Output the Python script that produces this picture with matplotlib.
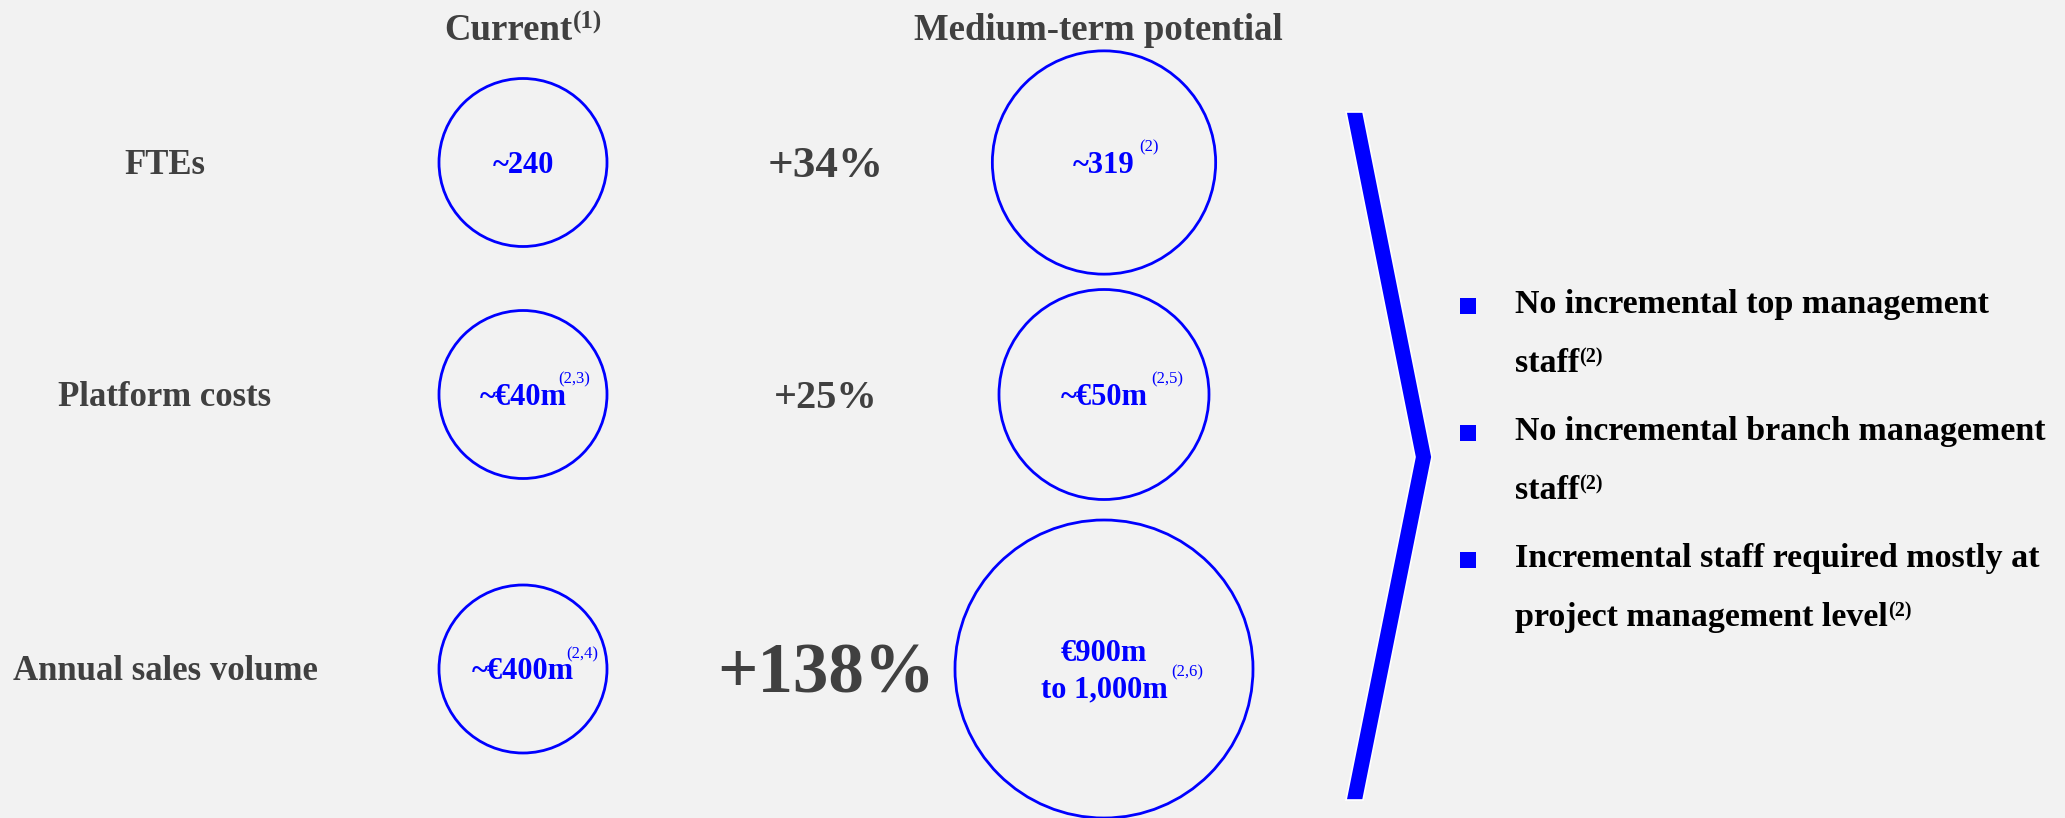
import matplotlib
matplotlib.use("Agg")
import matplotlib.pyplot as plt
from matplotlib.patches import Circle, Polygon, Rectangle

# ---- data ---------------------------------------------------------------
metrics = ["FTEs", "Platform costs", "Annual sales volume"]
current_values = [240, 40, 400]
medium_values = [319, 50, 950]
current_labels = [["~240"], ["~€40m"], ["~€400m"]]
current_notes = ["", "(2,3)", "(2,4)"]
medium_labels = [["~319"], ["~€50m"], ["€900m", "to 1,000m"]]
medium_notes = ["(2)", "(2,5)", "(2,6)"]
change_labels = ["+34%", "+25%", "+138%"]
column_titles = ["Current", "Medium-term potential"]
column_notes = ["(1)", ""]
takeaways = [
    ["No incremental top management", "staff"],
    ["No incremental branch management", "staff"],
    ["Incremental staff required mostly at", "project management level"],
]
takeaway_notes = ["(2)", "(2)", "(2)"]

# ---- style / layout -----------------------------------------------------
W, H = 2065, 818
BG = "#F2F2F2"
GREY = "#404040"
BLUE = "#0000FF"
SERIF = ["Liberation Serif", "DejaVu Serif"]

row_y = [162.5, 394.5, 669]
label_x = 165
cur_x = 523
pct_x = 826
med_x = 1104
base_r = 84
title_base = 40
label_size = 25
value_size = 22
note_size = 12
pct_sizes = [32.5, 29, 51]
bullet_x = 1468
text_x = 1515
first_base = 313
line_gap = 59
para_gap = 127
bullet_size = 24.5

fig = plt.figure(figsize=(W / 100, H / 100), dpi=100, facecolor=BG)
ax = fig.add_axes([0, 0, 1, 1])
ax.set_xlim(0, W)
ax.set_ylim(H, 0)
ax.set_facecolor(BG)
ax.axis("off")


def px(pt):
    return pt / 0.72


def capmid(cy, size):
    # baseline that puts the middle of the capitals on cy
    return cy + 0.33 * px(size)


def right_edge(t):
    fig.canvas.draw()
    bb = t.get_window_extent(fig.canvas.get_renderer())
    return ax.transData.inverted().transform((bb.x1, bb.y0))[0]


def width_of(t):
    fig.canvas.draw()
    bb = t.get_window_extent(fig.canvas.get_renderer())
    inv = ax.transData.inverted()
    return inv.transform((bb.x1, 0))[0] - inv.transform((bb.x0, 0))[0]


# column titles (main text + superscript centred as a group)
for cx, title, note in zip([cur_x, med_x - 6], column_titles, column_notes):
    t = ax.text(cx, title_base, title, ha="left", va="baseline", fontsize=26.5,
                fontweight="bold", family=SERIF, color=GREY)
    wt = width_of(t)
    ws = 0
    s = None
    if note:
        s = ax.text(0, title_base - 11, note, ha="left", va="baseline", fontsize=18,
                    fontweight="bold", family=SERIF, color=GREY)
        ws = width_of(s)
    x0 = cx - (wt + ws) / 2
    t.set_x(x0)
    if s is not None:
        s.set_x(x0 + wt)

# metric labels
for cy, name in zip(row_y, metrics):
    ax.text(label_x, capmid(cy, label_size), name, ha="center", va="baseline",
            fontsize=label_size, fontweight="bold", family=SERIF, color=GREY)


def bubble(cx, cy, r, lines, note, note_dx):
    ax.add_patch(Circle((cx, cy), r, fill=False, edgecolor=BLUE, lw=2.0))
    n = len(lines)
    base = capmid(cy, value_size)
    last = None
    for i, line in enumerate(lines):
        y = base + (i - (n - 1) / 2) * 36
        last = ax.text(cx, y, line, ha="center", va="baseline", fontsize=value_size,
                       fontweight="bold", family=SERIF, color=BLUE)
    if note:
        xr = right_edge(last)
        ax.text(xr + note_dx, last.get_position()[1] - 21, note, ha="left",
                va="baseline", fontsize=note_size, family=SERIF, color=BLUE)


for i, cy in enumerate(row_y):
    # footnote marks tuck in over the trailing letter in the small bubbles
    bubble(cur_x, cy, base_r, current_labels[i], current_notes[i], -8)
    # medium-term bubble scales with the growth ratio, kept inside the canvas
    r_med = min(base_r * medium_values[i] / current_values[i], H - cy)
    bubble(med_x, cy, r_med, medium_labels[i], medium_notes[i], 4)
    ax.text(pct_x, capmid(cy, pct_sizes[i]), change_labels[i], ha="center",
            va="baseline", fontsize=pct_sizes[i], fontweight="bold",
            family=SERIF, color=GREY)

# chevron bracket
chev = [(1346, 112), (1363, 112), (1432, 457), (1363, 800), (1346, 800), (1415, 457)]
ax.add_patch(Polygon(chev, closed=True, facecolor=BLUE, edgecolor="white", lw=1.2))

# takeaway bullets
for k, (lines, note) in enumerate(zip(takeaways, takeaway_notes)):
    b0 = first_base + k * para_gap
    ax.add_patch(Rectangle((bullet_x - 8, b0 - 15.5), 16, 16, facecolor=BLUE,
                           edgecolor="none"))
    last = None
    for j, line in enumerate(lines):
        last = ax.text(text_x, b0 + j * line_gap, line, ha="left", va="baseline",
                       fontsize=bullet_size, fontweight="bold", family=SERIF,
                       color="black")
    xr = right_edge(last)
    ax.text(xr, last.get_position()[1] - 10, note, ha="left", va="baseline",
            fontsize=14.5, fontweight="bold", family=SERIF, color="black")

fig.savefig("out.png", dpi=100, facecolor=BG)
